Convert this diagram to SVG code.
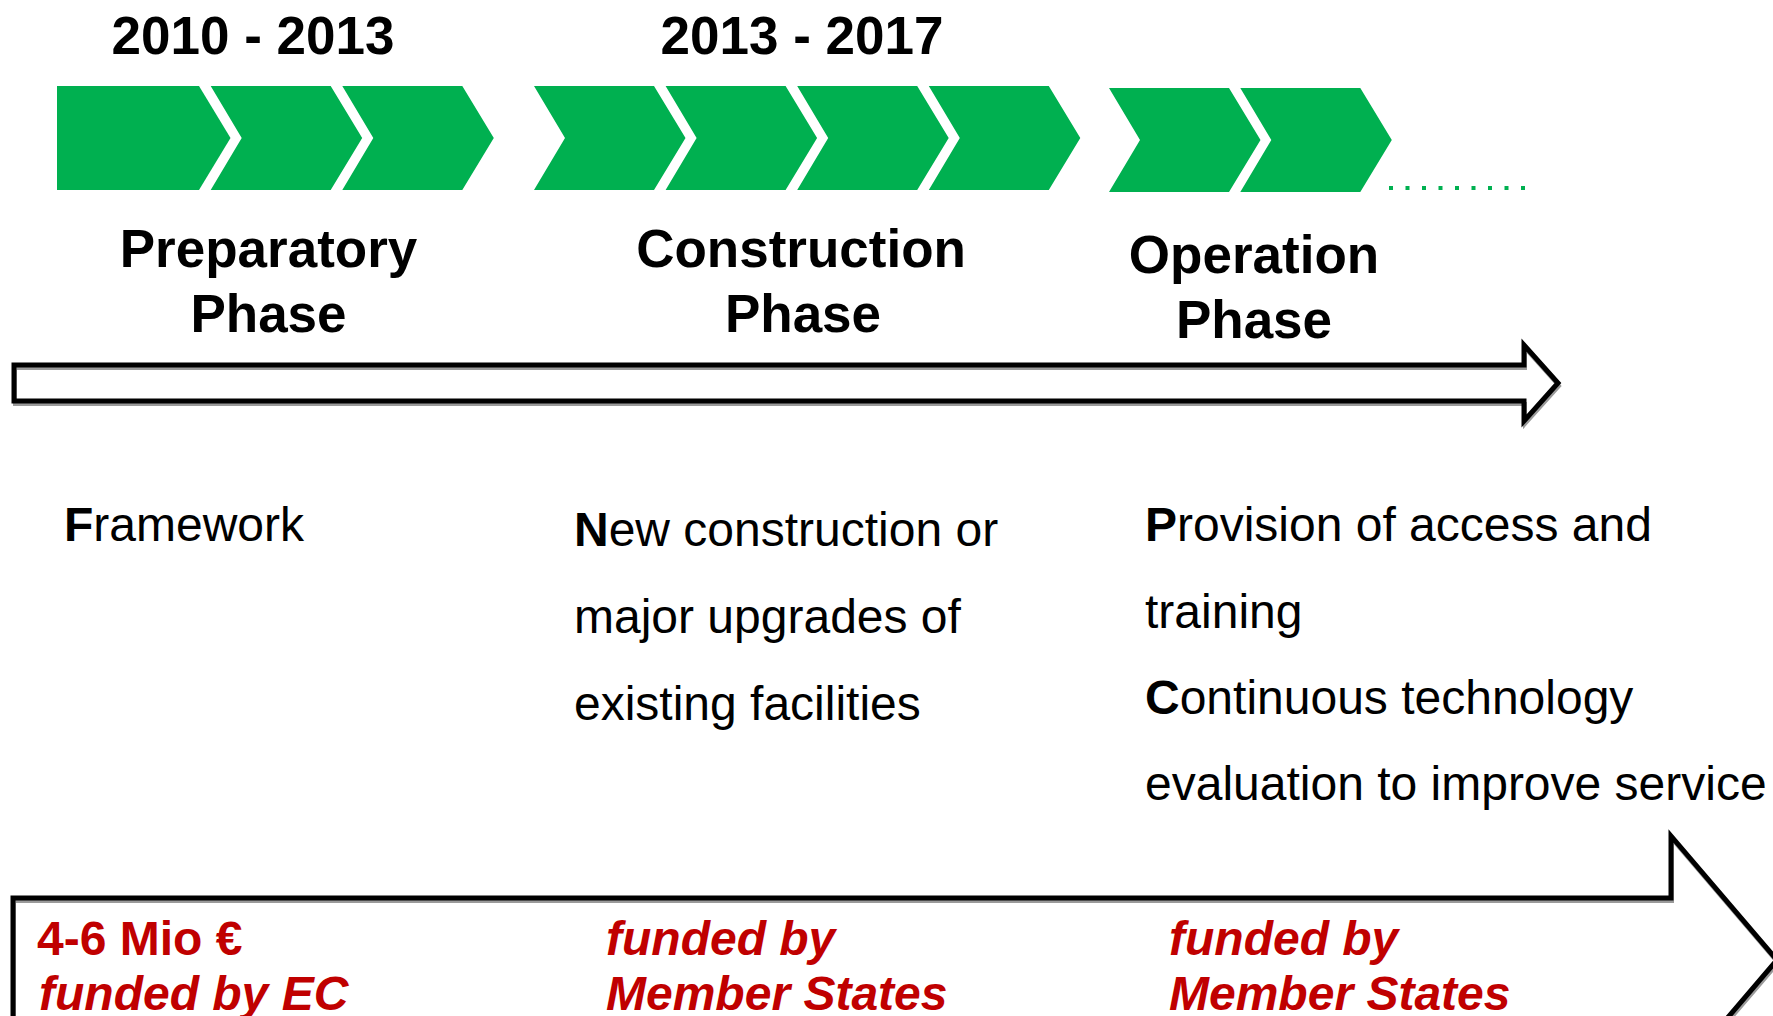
<svg xmlns="http://www.w3.org/2000/svg" width="1773" height="1016" viewBox="0 0 1773 1016">
  <style>
    .chev { fill: #00B050; }
    .yr { font-family: "Liberation Sans", Arial, sans-serif; font-weight: bold; font-size: 53px; fill: #000; text-anchor: middle; }
    .ph { font-family: "Liberation Sans", Arial, sans-serif; font-weight: bold; font-size: 53px; fill: #000; text-anchor: middle; }
    .bd { font-family: "Liberation Sans", Arial, sans-serif; font-size: 48px; fill: #000; }
    .bd tspan.b { font-weight: bold; }
    .red { font-family: "Liberation Sans", Arial, sans-serif; font-size: 48px; font-weight: bold; fill: #C00000; }
    .it { font-style: italic; }
    .arr { fill: none; stroke: #000; stroke-width: 5; stroke-linejoin: miter; }
    .shd { fill: none; stroke: #9a9a9a; stroke-width: 4; stroke-linejoin: miter; }
  </style>
  <defs>
    <polygon id="chevron" points="0,0 120,0 151.5,52 120,104 0,104 31,52"/>
  </defs>

  <!-- Years -->
  <g id="years">
    <text class="yr" x="253" y="54">2010 - 2013</text>
    <text class="yr" x="802" y="54">2013 - 2017</text>
  </g>

  <!-- Chevron groups -->
  <g id="chevrons-preparatory" class="chev">
    <polygon points="57,86 199,86 230.5,138 199,190 57,190"/>
    <use href="#chevron" x="210.7" y="86"/>
    <use href="#chevron" x="342.3" y="86"/>
  </g>
  <g id="chevrons-construction" class="chev">
    <use href="#chevron" x="534" y="86"/>
    <use href="#chevron" x="665.6" y="86"/>
    <use href="#chevron" x="797.2" y="86"/>
    <use href="#chevron" x="928.8" y="86"/>
  </g>
  <g id="chevrons-operation" class="chev">
    <use href="#chevron" x="1109" y="88"/>
    <use href="#chevron" x="1240.3" y="88"/>
  </g>
  <g id="dots" fill="#00B050">
    <rect x="1389" y="186" width="4" height="4"/>
    <rect x="1405.5" y="186" width="4" height="4"/>
    <rect x="1422" y="186" width="4" height="4"/>
    <rect x="1438.5" y="186" width="4" height="4"/>
    <rect x="1455" y="186" width="4" height="4"/>
    <rect x="1471.5" y="186" width="4" height="4"/>
    <rect x="1488" y="186" width="4" height="4"/>
    <rect x="1504.5" y="186" width="4" height="4"/>
    <rect x="1521" y="186" width="4" height="4"/>
  </g>

  <!-- Phase labels -->
  <g id="phase-preparatory">
    <text class="ph" x="268.5" y="267">Preparatory</text>
    <text class="ph" x="268.5" y="332">Phase</text>
  </g>
  <g id="phase-construction">
    <text class="ph" x="801" y="267">Construction</text>
    <text class="ph" x="803" y="332">Phase</text>
  </g>
  <g id="phase-operation">
    <text class="ph" x="1254" y="273">Operation</text>
    <text class="ph" x="1254" y="338">Phase</text>
  </g>

  <!-- Timeline arrows -->
  <g id="connectors">
    <g id="timeline-arrow">
      <polygon class="shd" transform="translate(1,3)" points="14,365 1524,365 1524,345 1558,383 1524,421 1524,401 14,401"/>
      <polygon class="arr" points="14,365 1524,365 1524,345 1558,383 1524,421 1524,401 14,401"/>
    </g>
    <g id="funding-arrow">
      <polygon class="shd" transform="translate(1,3)" points="13,898 1671,898 1671,836 1777,960 1671,1084 1671,1022 13,1022"/>
      <polygon class="arr" points="13,898 1671,898 1671,836 1777,960 1671,1084 1671,1022 13,1022"/>
    </g>
  </g>

  <!-- Descriptions -->
  <g id="desc-preparatory">
    <text class="bd" x="64" y="541"><tspan class="b">F</tspan>ramework</text>
  </g>
  <g id="desc-construction">
    <text class="bd" x="574" y="546"><tspan class="b">N</tspan>ew construction or</text>
    <text class="bd" x="574" y="633">major upgrades of</text>
    <text class="bd" x="574" y="720">existing facilities</text>
  </g>
  <g id="desc-operation">
    <text class="bd" x="1145" y="541"><tspan class="b">P</tspan>rovision of access and</text>
    <text class="bd" x="1145" y="628">training</text>
    <text class="bd" x="1145" y="714"><tspan class="b">C</tspan>ontinuous technology</text>
    <text class="bd" x="1145" y="800">evaluation to improve service</text>
  </g>

  <!-- Funding -->
  <g id="funding-preparatory">
    <text class="red" x="37" y="955">4-6 Mio €</text>
    <text class="red it" x="39" y="1010">funded by EC</text>
  </g>
  <g id="funding-construction">
    <text class="red it" x="606" y="955">funded by</text>
    <text class="red it" x="606" y="1010">Member States</text>
  </g>
  <g id="funding-operation">
    <text class="red it" x="1169" y="955">funded by</text>
    <text class="red it" x="1169" y="1010">Member States</text>
  </g>
</svg>
